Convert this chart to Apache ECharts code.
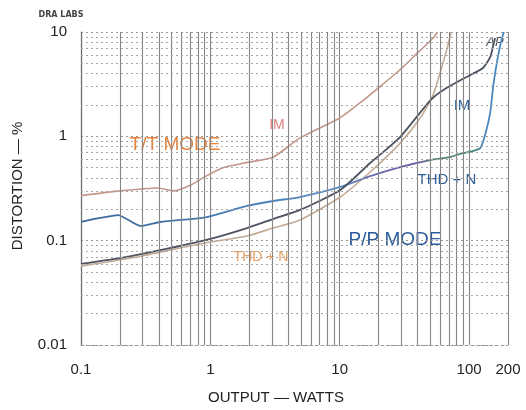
<!DOCTYPE html>
<html>
<head>
<meta charset="utf-8">
<script src="https://cdn.jsdelivr.net/npm/echarts@6/dist/echarts.min.js"></script>
<style>
  html, body { margin: 0; padding: 0; background: #fff; }
  #chart { width: 526px; height: 410px; }
</style>
</head>
<body>
<div id="chart"></div>
<script>
// T/T mode, IM distortion
var ttImWatts = [0.1, 0.2, 0.39, 0.52, 0.7, 0.94, 1.25, 1.9, 3.05, 4.9, 10, 14.4, 20.5, 29, 40, 53, 57];
var ttImPct   = [0.27, 0.30, 0.32, 0.30, 0.34, 0.42, 0.50, 0.56, 0.63, 0.96, 1.5, 2.1, 3.0, 4.3, 6.3, 8.8, 10];
// T/T mode, THD + N
var ttThdWatts = [0.1, 0.29, 0.58, 1.0, 1.92, 3.05, 4.94, 10.1, 17.2, 29.3, 41.9, 52.8, 59.8, 67.8, 72.8];
var ttThdPct   = [0.057, 0.071, 0.085, 0.097, 0.111, 0.132, 0.158, 0.262, 0.455, 0.86, 1.5, 2.5, 4.1, 7.0, 10];
// P/P mode, IM distortion
var ppImWatts = [0.1, 0.2, 0.41, 1.0, 1.92, 3.05, 4.94, 10.1, 17.2, 29.3, 50, 65, 102, 128, 146, 154, 159];
var ppImPct   = [0.060, 0.068, 0.081, 0.104, 0.132, 0.161, 0.197, 0.306, 0.555, 0.985, 2.2, 2.84, 3.87, 4.52, 5.76, 7.5, 8.76];
// P/P mode, THD + N
var ppThdWatts = [0.1, 0.14, 0.193, 0.29, 0.41, 0.7, 0.94, 1.92, 3.05, 4.94, 10.1, 17.2, 29.3, 50, 71.5, 85, 106, 122, 133, 146, 154, 168, 180, 186];
var ppThdPct   = [0.151, 0.165, 0.176, 0.138, 0.151, 0.161, 0.168, 0.215, 0.240, 0.262, 0.327, 0.416, 0.508, 0.593, 0.633, 0.68, 0.72, 0.77, 1.03, 1.71, 3.1, 6.0, 8.8, 10];

// minor grid positions
var xGrid = [0.2, 0.3, 0.4, 0.5, 0.6, 0.7, 0.8, 0.9, 2, 3, 4, 5, 6, 7, 8, 9, 20, 30, 40, 50, 60, 70, 80, 90];
var yGrid = [0.02, 0.03, 0.04, 0.05, 0.06, 0.07, 0.08, 0.09, 0.2, 0.3, 0.4, 0.5, 0.6, 0.7, 0.8, 0.9, 2, 3, 4, 5, 6, 7, 8, 9];

function pairs(xs, ys) {
  return xs.map(function (x, i) { return [x, ys[i]]; });
}

var chart = echarts.init(document.getElementById('chart'));
var tickFont = 'Liberation Sans';

var option = {
  animation: false,
  grid: { left: 81, right: 18, top: 32, bottom: 65 },
  xAxis: {
    type: 'log',
    logBase: 10,
    min: 0.1,
    max: 200,
    axisLine: { show: true, lineStyle: { color: '#9a9a9a', type: [3, 3] } },
    axisTick: { show: false },
    axisLabel: { color: '#222', fontSize: 15, fontFamily: tickFont, margin: 17, showMaxLabel: true, showMinLabel: true },
    splitLine: { show: true, lineStyle: { color: '#858585', width: 1.1 } }
  },
  yAxis: {
    type: 'log',
    logBase: 10,
    min: 0.01,
    max: 10,
    axisLine: { show: true, lineStyle: { color: '#6a6a6a', width: 1.2 } },
    axisTick: { show: false },
    axisLabel: { color: '#222', fontSize: 15, fontFamily: tickFont, margin: 14 },
    splitLine: { show: true, lineStyle: { color: '#999', type: [2, 3], width: 1 } }
  },
  graphic: [
    { type: 'text', x: 61, y: 15, style: { text: 'DRA LABS', font: 'bold 8px "DejaVu Sans"', fill: '#444', align: 'center', verticalAlign: 'middle' } },
    { type: 'text', x: 18, y: 186, rotation: Math.PI / 2, style: { text: 'DISTORTION — %', font: '15px "Liberation Sans"', fill: '#222', align: 'center', verticalAlign: 'middle' } },
    { type: 'text', x: 276, y: 398, style: { text: 'OUTPUT — WATTS', font: '15px "Liberation Sans"', fill: '#222', align: 'center', verticalAlign: 'middle' } },
    { type: 'text', x: 175, y: 145, style: { text: 'T/T MODE', font: '19px "Liberation Sans"', fill: '#e8843c', align: 'center', verticalAlign: 'middle' } },
    { type: 'text', x: 277, y: 125, style: { text: 'IM', font: '14px "Liberation Sans"', fill: '#dc7f7c', align: 'center', verticalAlign: 'middle' } },
    { type: 'text', x: 261, y: 257, style: { text: 'THD + N', font: '14px "Liberation Sans"', fill: '#e8a060', align: 'center', verticalAlign: 'middle' } },
    { type: 'text', x: 395, y: 240, style: { text: 'P/P MODE', font: '19px "Liberation Sans"', fill: '#2c5c9c', align: 'center', verticalAlign: 'middle' } },
    { type: 'text', x: 462, y: 106, style: { text: 'IM', font: '15px "Liberation Sans"', fill: '#2f66a0', align: 'center', verticalAlign: 'middle' } },
    { type: 'text', x: 447, y: 180, style: { text: 'THD + N', font: '15px "Liberation Sans"', fill: '#2f5f98', align: 'center', verticalAlign: 'middle' } },
    { type: 'text', x: 495, y: 42, style: { text: 'AP', font: 'italic 13px "Liberation Sans"', fill: '#4a4f5c', align: 'center', verticalAlign: 'middle' } }
  ],
  series: [
    {
      type: 'line',
      data: [],
      silent: true,
      markLine: {
        silent: true,
        symbol: ['none', 'none'],
        label: { show: false },
        lineStyle: { color: '#858585', width: 1.1, type: 'solid' },
        data: xGrid.map(function (v) { return { xAxis: v }; })
      }
    },
    {
      type: 'line',
      data: [],
      silent: true,
      markLine: {
        silent: true,
        symbol: ['none', 'none'],
        label: { show: false },
        lineStyle: { color: '#a8a8a8', width: 1, type: [2, 3] },
        data: yGrid.map(function (v) { return { yAxis: v }; })
      }
    },
    {
      name: 'T/T IM',
      type: 'line',
      data: pairs(ttImWatts, ttImPct),
      showSymbol: false,
      smooth: 0.2,
      lineStyle: { color: '#c4978a', width: 1.6 }
    },
    {
      name: 'T/T THD + N',
      type: 'line',
      data: pairs(ttThdWatts, ttThdPct),
      showSymbol: false,
      smooth: 0.2,
      lineStyle: { color: '#c3ab95', width: 1.6 }
    },
    {
      name: 'P/P THD + N',
      type: 'line',
      data: pairs(ppThdWatts, ppThdPct),
      showSymbol: false,
      smooth: 0.2,
      lineStyle: {
        width: 1.8,
        color: new echarts.graphic.LinearGradient(0, 0, 1, 0, [
          { offset: 0, color: '#3d6699' },
          { offset: 0.4, color: '#4a7fb8' },
          { offset: 0.6, color: '#5a8fcc' },
          { offset: 0.68, color: '#6a6fb0' },
          { offset: 0.79, color: '#6a5aa6' },
          { offset: 0.83, color: '#4f8272' },
          { offset: 0.92, color: '#4f8a72' },
          { offset: 0.95, color: '#4a88c0' },
          { offset: 1, color: '#4a88c4' }
        ])
      }
    },
    {
      name: 'P/P IM',
      type: 'line',
      data: pairs(ppImWatts, ppImPct),
      showSymbol: false,
      smooth: 0.2,
      lineStyle: { color: '#4d5360', width: 1.8 }
    }
  ]
};

chart.setOption(option);
</script>
</body>
</html>
